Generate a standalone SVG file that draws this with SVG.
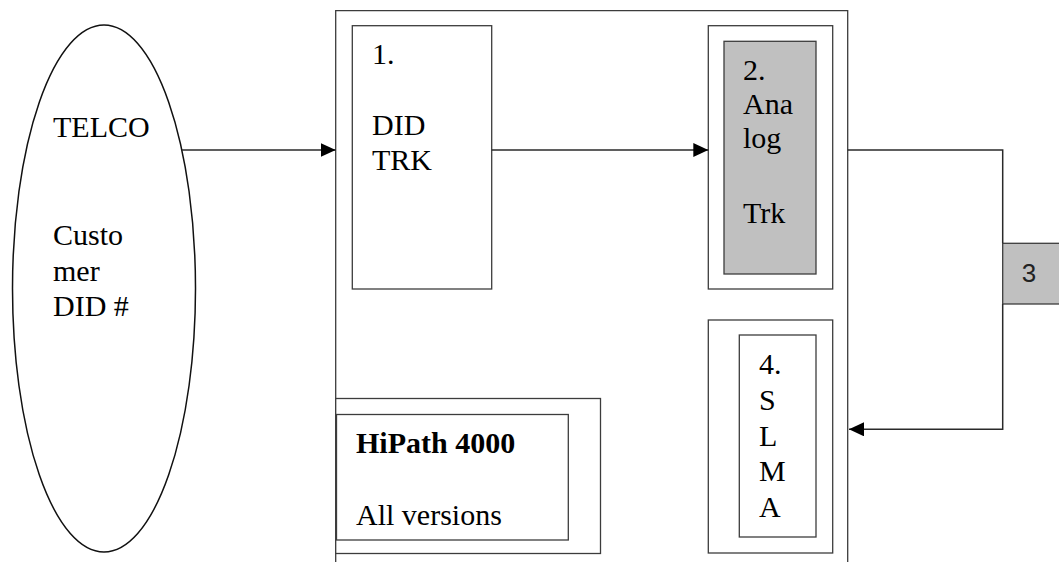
<svg xmlns="http://www.w3.org/2000/svg" width="1059" height="562" viewBox="0 0 1059 562">
<style>
  .box { fill: #ffffff; stroke: #3c3c3c; stroke-width: 1.3; }
  .gray { fill: #c0c0c0; stroke: #3c3c3c; stroke-width: 1.3; }
  .line { fill: none; stroke: #2a2a2a; stroke-width: 1.5; }
  .t { font-family: "Liberation Serif", "Times New Roman", serif; font-size: 30px; fill: #000000; }
  .b { font-weight: bold; }
  .s { font-family: "Liberation Sans", Arial, sans-serif; font-size: 26px; fill: #222222; }
</style>
<defs>
  <marker id="ah" markerUnits="userSpaceOnUse" markerWidth="16" markerHeight="14" refX="15" refY="7" orient="auto">
    <path d="M0,0 L15,7 L0,14 z" fill="#000000"/>
  </marker>
</defs>
<rect width="1059" height="562" fill="#ffffff"/>

<g id="telco">
  <ellipse cx="104" cy="288.5" rx="91.5" ry="263.5" fill="#ffffff" stroke="#111111" stroke-width="1.5"/>
  <text class="t" x="53" y="137">TELCO</text>
  <text class="t" x="53" y="245">Custo</text>
  <text class="t" x="53" y="280.5">mer</text>
  <text class="t" x="53" y="316">DID #</text>
</g>

<g id="hipath-frame">
  <path class="box" d="M335.7,563 L335.7,10.7 L847.7,10.7 L847.7,563" fill="none"/>
</g>

<g id="did-trk">
  <rect class="box" x="352.3" y="25.7" width="139.4" height="263.3"/>
  <text class="t" x="372" y="64">1.</text>
  <text class="t" x="372" y="135">DID</text>
  <text class="t" x="372" y="170">TRK</text>
</g>

<g id="analog-trk">
  <rect class="box" x="708.3" y="25.7" width="124.4" height="263.3"/>
  <rect class="gray" x="724" y="41.3" width="92" height="232.7"/>
  <text class="t" x="743" y="79.5">2.</text>
  <text class="t" x="743" y="114">Ana</text>
  <text class="t" x="743" y="148">log</text>
  <text class="t" x="743" y="222.5">Trk</text>
</g>

<g id="slma">
  <rect class="box" x="708.3" y="320" width="124.4" height="233"/>
  <rect class="box" x="739.3" y="335" width="76.7" height="202"/>
  <text class="t" x="759" y="374">4.</text>
  <text class="t" x="759" y="409.5">S</text>
  <text class="t" x="759" y="445.5">L</text>
  <text class="t" x="759" y="481">M</text>
  <text class="t" x="759" y="517">A</text>
</g>

<g id="hipath-label">
  <rect class="box" x="335.7" y="398.5" width="264.8" height="155"/>
  <rect class="box" x="336.5" y="414.5" width="231.8" height="125.5"/>
  <text class="t b" x="356" y="453">HiPath 4000</text>
  <text class="t" x="356" y="525">All versions</text>
</g>

<g id="box3">
  <rect class="gray" x="1002.7" y="243.3" width="70" height="60.7"/>
  <text class="s" x="1029" y="281.5" text-anchor="middle">3</text>
</g>

<g id="connectors">
  <line class="line" x1="182" y1="150" x2="335.7" y2="150" marker-end="url(#ah)"/>
  <line class="line" x1="491.7" y1="150" x2="708.3" y2="150" marker-end="url(#ah)"/>
  <polyline class="line" points="847.7,150 1002.7,150 1002.7,243.3"/>
  <polyline class="line" points="1002.7,304 1002.7,429.3 849,429.3" marker-end="url(#ah)"/>
</g>
</svg>
